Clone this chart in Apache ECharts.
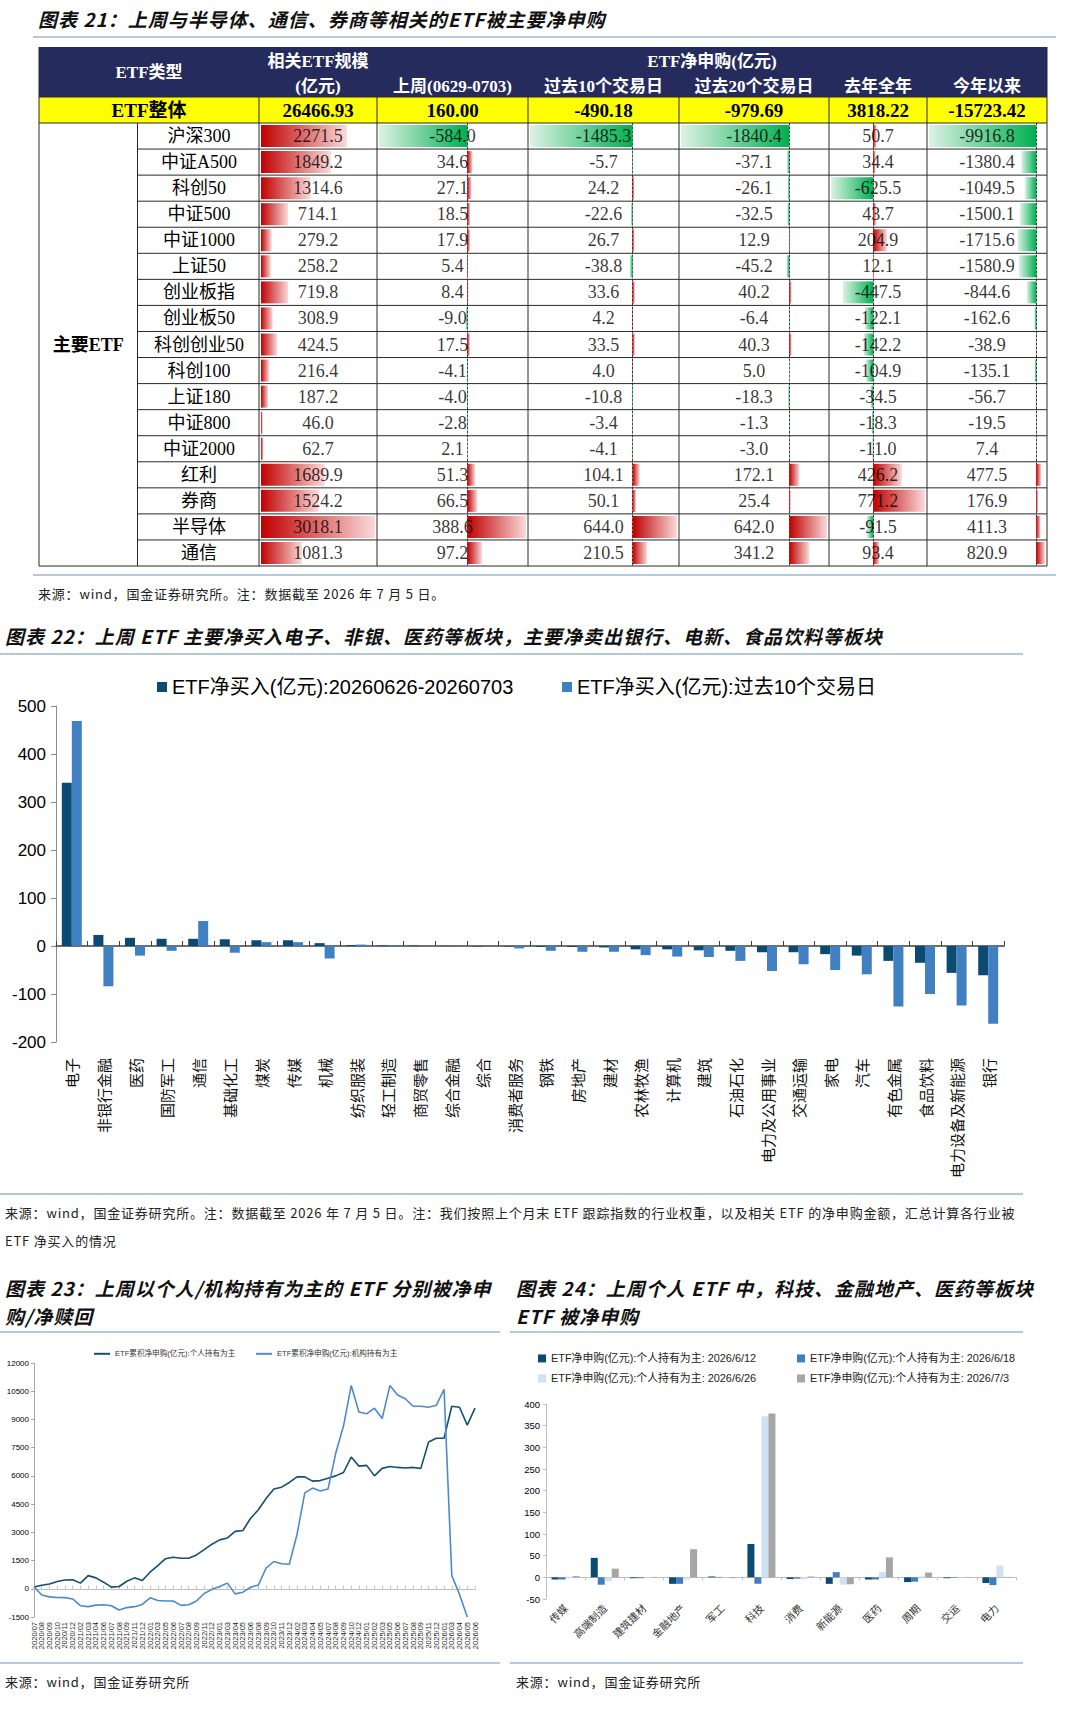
<!DOCTYPE html>
<html lang="zh">
<head>
<meta charset="UTF-8">
<title>ETF申赎</title>
<script src="https://cdn.jsdelivr.net/npm/echarts@6/dist/echarts.min.js"></script>
<style>
    body { margin: 0; background: #fff; }
    #page { position: relative; width: 1080px; height: 1714px; overflow: hidden; font-family: "Noto Sans CJK SC", sans-serif; }
    .title { position: absolute; font-size: 19px; font-weight: bold; font-style: italic; letter-spacing: 1px; color: #111; white-space: nowrap; line-height: 28px; }
    .rule { position: absolute; height: 2px; background: #b3c9dd; }
    .src { position: absolute; font-size: 13px; line-height: 18px; color: #222; white-space: nowrap; letter-spacing: 0.8px; }
    .box { position: absolute; }
</style>
</head>
<body>
<div id="page">
    <div class="title" style="left:38px;top:5px;">图表 21：上周与半导体、通信、券商等相关的ETF被主要净申购</div>
    <div class="rule" style="left:33px;top:36px;width:1023px;"></div>
    <div id="table" class="box" style="left:0;top:0;width:1080px;height:572px;"></div>
    <div class="rule" style="left:33px;top:574px;width:1023px;"></div>
    <div class="src" style="left:38px;top:585px;">来源：wind，国金证券研究所。注：数据截至 2026 年 7 月 5 日。</div>

    <div class="title" style="left:5px;top:622px;">图表 22：上周 ETF 主要净买入电子、非银、医药等板块，主要净卖出银行、电新、食品饮料等板块</div>
    <div class="rule" style="left:0;top:653px;width:1023px;"></div>
    <div id="c22" class="box" style="left:0;top:660px;width:1080px;height:530px;"></div>
    <div class="rule" style="left:0;top:1193px;width:1023px;"></div>
    <div class="src" style="left:5px;top:1204px;">来源：wind，国金证券研究所。注：数据截至 2026 年 7 月 5 日。注：我们按照上个月末 ETF 跟踪指数的行业权重，以及相关 ETF 的净申购金额，汇总计算各行业被</div>
    <div class="src" style="left:5px;top:1232px;">ETF 净买入的情况</div>

    <div class="title" style="left:5px;top:1274px;">图表 23：上周以个人/机构持有为主的 ETF 分别被净申<br>购/净赎回</div>
    <div class="title" style="left:516px;top:1274px;">图表 24：上周个人 ETF 中，科技、金融地产、医药等板块<br>ETF 被净申购</div>
    <div class="rule" style="left:0;top:1331px;width:500px;"></div>
    <div class="rule" style="left:510px;top:1331px;width:513px;"></div>
    <div id="c23" class="box" style="left:0;top:1336px;width:505px;height:325px;"></div>
    <div id="c24" class="box" style="left:505px;top:1336px;width:575px;height:325px;"></div>
    <div class="rule" style="left:0;top:1662px;width:500px;"></div>
    <div class="rule" style="left:510px;top:1662px;width:513px;"></div>
    <div class="src" style="left:5px;top:1673px;">来源：wind，国金证券研究所</div>
    <div class="src" style="left:516px;top:1673px;">来源：wind，国金证券研究所</div>
</div>
<script>
// ---------- 图表21 数据 ----------
var rowNames = ['沪深300', '中证A500', '科创50', '中证500', '中证1000', '上证50', '创业板指', '创业板50', '科创创业50', '科创100', '上证180', '中证800', '中证2000', '红利', '券商', '半导体', '通信'];
var etfScale = [2271.5, 1849.2, 1314.6, 714.1, 279.2, 258.2, 719.8, 308.9, 424.5, 216.4, 187.2, 46.0, 62.7, 1689.9, 1524.2, 3018.1, 1081.3];
var flowLastWeek = [-584.0, 34.6, 27.1, 18.5, 17.9, 5.4, 8.4, -9.0, 17.5, -4.1, -4.0, -2.8, 2.1, 51.3, 66.5, 388.6, 97.2];
var flow10d = [-1485.3, -5.7, 24.2, -22.6, 26.7, -38.8, 33.6, 4.2, 33.5, 4.0, -10.8, -3.4, -4.1, 104.1, 50.1, 644.0, 210.5];
var flow20d = [-1840.4, -37.1, -26.1, -32.5, 12.9, -45.2, 40.2, -6.4, 40.3, 5.0, -18.3, -1.3, -3.0, 172.1, 25.4, 642.0, 341.2];
var flowLastYear = [50.7, 34.4, -625.5, 43.7, 204.9, 12.1, -447.5, -122.1, -142.2, -104.9, -34.5, -18.3, -11.0, 426.2, 771.2, -91.5, 93.4];
var flowYtd = [-9916.8, -1380.4, -1049.5, -1500.1, -1715.6, -1580.9, -844.6, -162.6, -38.9, -135.1, -56.7, -19.5, 7.4, 477.5, 176.9, 411.3, 820.9];
var totalRow = ['26466.93', '160.00', '-490.18', '-979.69', '3818.22', '-15723.42'];
var flowHeads = ['上周(0629-0703)', '过去10个交易日', '过去20个交易日', '去年全年', '今年以来'];

// ---------- 图表22 数据 ----------
var cats22 = ['电子', '非银行金融', '医药', '国防军工', '通信', '基础化工', '煤炭', '传媒', '机械', '纺织服装', '轻工制造', '商贸零售', '综合金融', '综合', '消费者服务', '钢铁', '房地产', '建材', '农林牧渔', '计算机', '建筑', '石油石化', '电力及公用事业', '交通运输', '家电', '汽车', '有色金属', '食品饮料', '电力设备及新能源', '银行'];
var buyLastWeek = [340, 23, 17, 15, 15, 14, 12, 12, 6, 2, 1, 1, 0.5, -1, -1, -2, -2, -3, -7, -7, -9, -10, -13, -13, -17, -20, -31, -35, -56, -61];
var buy10d = [469, -84, -20, -10, 52, -14, 8, 8, -26, 3, 1, -1, -1, -1, -5, -10, -12, -12, -19, -22, -23, -31, -52, -38, -50, -59, -126, -100, -124, -162];

// ---------- 图表23 数据 ----------
var dates23 = ['2020/07', '2020/08', '2020/09', '2020/10', '2020/11', '2020/12', '2021/02', '2021/03', '2021/04', '2021/06', '2021/07', '2021/08', '2021/09', '2021/11', '2021/12', '2022/01', '2022/03', '2022/05', '2022/06', '2022/07', '2022/08', '2022/09', '2022/11', '2022/12', '2023/01', '2023/03', '2023/04', '2023/05', '2023/06', '2023/08', '2023/09', '2023/10', '2023/11', '2023/12', '2024/02', '2024/03', '2024/04', '2024/05', '2024/07', '2024/08', '2024/09', '2024/10', '2024/12', '2025/01', '2025/02', '2025/03', '2025/05', '2025/06', '2025/07', '2025/08', '2025/09', '2025/11', '2025/12', '2026/01', '2026/03', '2026/04', '2026/05', '2026/06'];
var personalCum = [90, 190, 250, 390, 470, 480, 300, 700, 580, 350, 90, 120, 400, 580, 440, 880, 1230, 1600, 1680, 1620, 1620, 1800, 2080, 2370, 2600, 2700, 3050, 3100, 3750, 4200, 4800, 5300, 5400, 5650, 5950, 5950, 5720, 5750, 5880, 6000, 6180, 7000, 6520, 6560, 6000, 6400, 6500, 6450, 6420, 6450, 6400, 7800, 8000, 8000, 9700, 9650, 8700, 9600];
var instCum = [100, -330, -430, -460, -470, -540, -900, -950, -870, -850, -900, -1130, -1000, -950, -830, -480, -620, -650, -650, -880, -850, -650, -250, -30, 120, 300, -270, -180, 80, 200, 1100, 1450, 1330, 1300, 2900, 5100, 5350, 5200, 5300, 7200, 8650, 10800, 9400, 9300, 9600, 9050, 10800, 10300, 10100, 9700, 9700, 9650, 9750, 10600, 700, -300, -1500, null];

// ---------- 图表24 数据 ----------
var cats24 = ['传媒', '高端制造', '建筑建材', '金融地产', '军工', '科技', '消费', '新能源', '医药', '周期', '交运', '电力'];
var week0612 = [-5, 45, -2, -15, 2, 77, -4, -15, -5, -11, -2, -13];
var week0618 = [-5, -17, -2, -15, 1, -15, -3, 12, -5, -10, -1, -18];
var week0626 = [-1, -9, -1, -5, -1, 372, -5, -17, 12, 2, -1, 27];
var week0703 = [3, 20, -1, 65, -2, 378, 2, -16, 46, 11, -1, 1];

var serif = '"Liberation Serif","Noto Sans CJK SC"';
function plain(v) { return String(v); }

// ================= 图表21：表格 =================
function drawTable() {
    var chart = echarts.init(document.getElementById('table'), null, {renderer: 'svg'});
    var cols = [etfScale, flowLastWeek, flow10d, flow20d, flowLastYear, flowYtd];
    var colEdges = [259, 377, 528, 679, 829, 927, 1047];
    var tableLeft = 39, nameEdge = 137.5, tableRight = 1047;
    var headTop = 47, totalTop = 97, bodyTop = 123, rowH = 26.06;
    var bodyBottom = bodyTop + rowH * rowNames.length;

    var grids = [], xAxes = [], yAxes = [], series = [], g = [];

    function barColor(v) {
        if (v >= 0) {
            return new echarts.graphic.LinearGradient(0, 0, 1, 0, [
                {offset: 0, color: '#c00000'}, {offset: 1, color: '#fad9d9'}]);
        }
        return new echarts.graphic.LinearGradient(0, 0, 1, 0, [
            {offset: 0, color: '#dcf2e4'}, {offset: 1, color: '#00b050'}]);
    }

    cols.forEach(function (vals, c) {
        var lo = Math.min(0, Math.min.apply(null, vals));
        var hi = Math.max(0, Math.max.apply(null, vals));
        grids.push({left: colEdges[c] + 2, width: colEdges[c + 1] - colEdges[c] - 4, top: bodyTop,
                    height: rowH * rowNames.length, outerBoundsMode: 'none'});
        xAxes.push({type: 'value', gridIndex: c, min: lo, max: hi, show: false});
        yAxes.push({
            type: 'category', gridIndex: c, data: rowNames, inverse: true,
            axisTick: {show: false},
            axisLine: {show: lo < 0, onZero: true, lineStyle: {type: [2, 2], color: '#333', width: 1}},
            axisLabel: c === 0 ? {show: true, margin: 62, align: 'center', fontSize: 18, color: '#000', fontFamily: serif} : {show: false}
        });
        series.push({
            type: 'bar', xAxisIndex: c, yAxisIndex: c, barWidth: 22, silent: true,
            data: vals.map(function (v) { return {value: v, itemStyle: {color: barColor(v)}}; })
        });
        series.push({
            type: 'scatter', xAxisIndex: c, yAxisIndex: c, symbolSize: 1, silent: true, z: 5,
            itemStyle: {color: 'rgba(0,0,0,0)'},
            data: vals.map(function (v, i) { return [(lo + hi) / 2, i, v]; }),
            label: {
                show: true, position: 'inside', color: '#000', fontSize: 18, fontFamily: serif,
                formatter: function (p) { return p.value[2].toFixed(1); }
            }
        });
    });

    function txt(x, y, s, font, color) {
        g.push({type: 'text', x: x, y: y, z: 30, style: {text: s, font: font, fill: color,
            textAlign: 'center', textVerticalAlign: 'middle', align: 'center', verticalAlign: 'middle'}});
    }
    function line(x1, y1, x2, y2) {
        g.push({type: 'line', z: 20, shape: {x1: x1, y1: y1, x2: x2, y2: y2}, style: {stroke: '#2a2a2a', lineWidth: 1}});
    }

    g.push({type: 'rect', z: 1, shape: {x: tableLeft, y: headTop, width: tableRight - tableLeft, height: totalTop - headTop}, style: {fill: '#262b5e'}});
    g.push({type: 'rect', z: 1, shape: {x: tableLeft, y: totalTop, width: tableRight - tableLeft, height: bodyTop - totalTop}, style: {fill: '#ffff00'}});

    var headFont = 'bold 17px ' + serif;
    txt((tableLeft + colEdges[0]) / 2, 72, 'ETF类型', headFont, '#fff');
    txt((colEdges[0] + colEdges[1]) / 2, 61, '相关ETF规模', headFont, '#fff');
    txt((colEdges[0] + colEdges[1]) / 2, 86, '(亿元)', headFont, '#fff');
    txt((colEdges[1] + tableRight) / 2, 61, 'ETF净申购(亿元)', headFont, '#fff');
    flowHeads.forEach(function (h, i) {
        txt((colEdges[i + 1] + colEdges[i + 2]) / 2, 86, h, headFont, '#fff');
    });

    var totFont = 'bold 19px ' + serif;
    txt((tableLeft + colEdges[0]) / 2, 110, 'ETF整体', totFont, '#000');
    totalRow.forEach(function (t, i) {
        txt((colEdges[i] + colEdges[i + 1]) / 2, 110, t, totFont, '#000');
    });
    txt((tableLeft + nameEdge) / 2, (bodyTop + bodyBottom) / 2, '主要ETF', 'bold 18px ' + serif, '#000');

    line(tableLeft, totalTop, tableRight, totalTop);
    line(tableLeft, bodyTop, tableRight, bodyTop);
    line(tableLeft, bodyBottom, tableRight, bodyBottom);
    for (var i = 1; i < rowNames.length; i++) {
        line(nameEdge, bodyTop + i * rowH, tableRight, bodyTop + i * rowH);
    }
    line(tableLeft, headTop, tableLeft, bodyBottom);
    line(tableRight, headTop, tableRight, bodyBottom);
    line(nameEdge, bodyTop, nameEdge, bodyBottom);
    for (var k = 0; k < colEdges.length - 1; k++) {
        line(colEdges[k], totalTop, colEdges[k], bodyBottom);
    }

    chart.setOption({
        animation: false,
        grid: grids, xAxis: xAxes, yAxis: yAxes, series: series, graphic: g
    });
}

// ================= 图表22 =================
function drawChart22() {
    var chart = echarts.init(document.getElementById('c22'), null, {renderer: 'svg'});
    var n1 = 'ETF净买入(亿元):20260626-20260703';
    var n2 = 'ETF净买入(亿元):过去10个交易日';
    var legendText = {fontSize: 20, color: '#000', fontFamily: '"Liberation Sans","Noto Sans CJK SC"'};
    chart.setOption({
        animation: false,
        legend: [
            {data: [n1], left: 152, top: 12, icon: 'rect', itemWidth: 10, itemHeight: 10, itemGap: 0, textStyle: legendText},
            {data: [n2], left: 557, top: 12, icon: 'rect', itemWidth: 10, itemHeight: 10, itemGap: 0, textStyle: legendText}
        ],
        grid: {left: 56, top: 46, width: 948, height: 336, outerBoundsMode: 'none'},
        xAxis: {
            type: 'category', data: cats22,
            axisLine: {onZero: true, lineStyle: {color: '#404040', width: 1.5}},
            axisTick: {show: true, inside: true, length: 5, lineStyle: {color: '#404040'}},
            axisLabel: {interval: 0, rotate: 90, margin: 16, fontSize: 15, color: '#111', fontFamily: '"Noto Sans CJK SC"'}
        },
        yAxis: {
            type: 'value', min: -200, max: 500, interval: 100,
            axisLine: {show: true, lineStyle: {color: '#8c8c8c'}},
            axisTick: {show: true, length: 5, lineStyle: {color: '#8c8c8c'}},
            splitLine: {show: false},
            axisLabel: {fontSize: 17, color: '#000', margin: 10, fontFamily: '"Liberation Sans"', formatter: plain}
        },
        series: [
            {name: n1, type: 'bar', data: buyLastWeek, barWidth: 10, barGap: '0%', itemStyle: {color: '#0b4a71'}},
            {name: n2, type: 'bar', data: buy10d, barWidth: 10, barGap: '0%', itemStyle: {color: '#4080c0'}}
        ]
    });
}

// ================= 图表23 =================
function drawChart23() {
    var chart = echarts.init(document.getElementById('c23'), null, {renderer: 'svg'});
    var n1 = 'ETF累积净申购(亿元):个人持有为主';
    var n2 = 'ETF累积净申购(亿元):机构持有为主';
    var legendText = {fontSize: 7.6, color: '#333', fontFamily: '"Liberation Sans","Noto Sans CJK SC"'};
    chart.setOption({
        animation: false,
        legend: [
            {data: [n1], left: 89, top: 9, icon: 'rect', itemWidth: 16, itemHeight: 2, textStyle: legendText},
            {data: [n2], left: 251, top: 9, icon: 'rect', itemWidth: 16, itemHeight: 2, textStyle: legendText}
        ],
        grid: {left: 34, top: 27, width: 441, height: 254, outerBoundsMode: 'none'},
        xAxis: {
            type: 'category', boundaryGap: false, data: dates23,
            axisLine: {onZero: true, lineStyle: {color: '#bfbfbf'}},
            axisTick: {show: true, inside: true, length: 3, interval: 0, lineStyle: {color: '#bfbfbf'}},
            axisLabel: {interval: 0, rotate: 90, margin: 5, fontSize: 7.5, color: '#222', fontFamily: '"Liberation Sans"'}
        },
        yAxis: {
            type: 'value', min: -1500, max: 12000, interval: 1500,
            axisLine: {show: true, lineStyle: {color: '#a6a6a6'}},
            axisTick: {show: true, length: 3, lineStyle: {color: '#a6a6a6'}},
            splitLine: {show: false},
            axisLabel: {fontSize: 8, color: '#000', margin: 5, fontFamily: '"Liberation Sans"', formatter: plain}
        },
        series: [
            {name: n1, type: 'line', data: personalCum, symbol: 'none', lineStyle: {width: 1.6, color: '#174e70'}, itemStyle: {color: '#174e70'}},
            {name: n2, type: 'line', data: instCum, symbol: 'none', lineStyle: {width: 1.6, color: '#4d8bc8'}, itemStyle: {color: '#4d8bc8'}}
        ]
    });
}

// ================= 图表24 =================
function drawChart24() {
    var chart = echarts.init(document.getElementById('c24'), null, {renderer: 'svg'});
    var names = ['ETF净申购(亿元):个人持有为主: 2026/6/12', 'ETF净申购(亿元):个人持有为主: 2026/6/18',
                 'ETF净申购(亿元):个人持有为主: 2026/6/26', 'ETF净申购(亿元):个人持有为主: 2026/7/3'];
    var colors = ['#0b4a72', '#3f7ec0', '#cfe2f3', '#a6a6a6'];
    var datas = [week0612, week0618, week0626, week0703];
    var legendText = {fontSize: 10.9, color: '#222', fontFamily: '"Liberation Sans","Noto Sans CJK SC"'};
    var legendPos = [[28, 12], [287, 12], [28, 32], [287, 32]];
    chart.setOption({
        animation: false,
        legend: names.map(function (n, i) {
            return {data: [n], left: legendPos[i][0], top: legendPos[i][1], icon: 'rect', itemWidth: 8, itemHeight: 8, itemGap: 0, textStyle: legendText};
        }),
        grid: {left: 41, top: 68, width: 470, height: 195, outerBoundsMode: 'none'},
        xAxis: {
            type: 'category', data: cats24,
            axisLine: {onZero: true, lineStyle: {color: '#bfbfbf'}},
            axisTick: {show: true, length: 3, lineStyle: {color: '#bfbfbf'}},
            axisLabel: {interval: 0, rotate: 45, margin: 7, fontSize: 10.5, color: '#333', fontFamily: '"Noto Sans CJK SC"'}
        },
        yAxis: {
            type: 'value', min: -50, max: 400, interval: 50,
            axisLine: {show: true, lineStyle: {color: '#bfbfbf'}},
            axisTick: {show: true, length: 3, lineStyle: {color: '#bfbfbf'}},
            splitLine: {show: false},
            axisLabel: {fontSize: 9.5, color: '#000', margin: 6, fontFamily: '"Liberation Sans"', formatter: plain}
        },
        series: names.map(function (n, i) {
            return {name: n, type: 'bar', data: datas[i], barWidth: 7, barGap: '0%', itemStyle: {color: colors[i]}};
        })
    });
}

drawTable();
drawChart22();
drawChart23();
drawChart24();
</script>
</body>
</html>
